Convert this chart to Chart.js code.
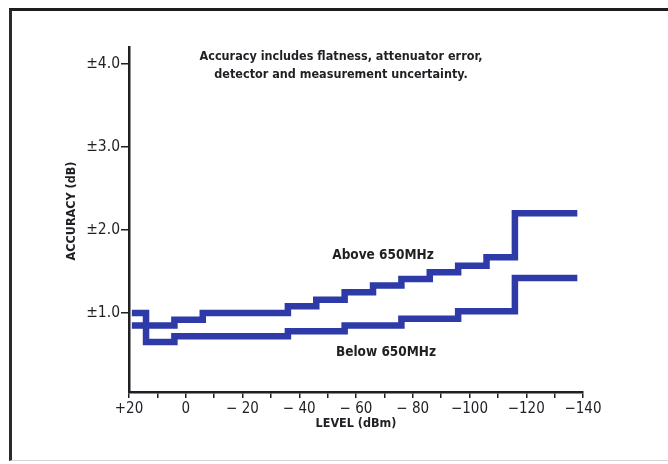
<!DOCTYPE html>
<html>
<head>
<meta charset="utf-8">
<script src="https://cdn.jsdelivr.net/npm/chart.js@4.4.1/dist/chart.umd.min.js"></script>
<style>
  html, body { margin: 0; padding: 0; background: #ffffff; }
  #wrap { position: relative; width: 668px; height: 464px; overflow: hidden; }
  #frame {
    position: absolute; left: 9px; top: 8px; width: 680px; height: 453px;
    border-top: 3px solid #1d1d1f; border-left: 3px solid #2a2a2c;
    border-bottom: 1px solid #d6d6d6; box-sizing: border-box;
  }
  canvas { position: absolute; left: 0; top: 0; }
</style>
</head>
<body>
<div id="wrap">
  <div id="frame"></div>
  <canvas id="c" width="668" height="464"></canvas>
</div>
<script>
// Level breakpoints (dBm) and accuracy (± dB) for each stepped curve;
// each value holds from its breakpoint to the next one
const levelsAbove = [19, 14, 4, -6, -36, -46, -56, -66, -76, -86, -96, -106, -116, -138];
const accuracyAbove = [1.0, 0.85, 0.92, 1.0, 1.08, 1.16, 1.25, 1.33, 1.41, 1.49, 1.57, 1.67, 2.2, 2.2];

const levelsBelow = [19, 14, 4, -36, -56, -76, -96, -116, -138];
const accuracyBelow = [0.85, 0.65, 0.72, 0.78, 0.85, 0.93, 1.02, 1.42, 1.42];

const xTicks = [20, 10, 0, -10, -20, -30, -40, -50, -60, -70, -80, -90, -100, -110, -120, -130, -140];
const xTickLabels = ['+20', '', '0', '', '\u2212 20', '', '\u2212 40', '', '\u2212 60', '', '\u2212 80', '', '\u2212100', '', '\u2212120', '', '\u2212140'];
const yTicks = [1, 2, 3, 4];
const yTickLabels = ['\u00b11.0', '\u00b12.0', '\u00b13.0', '\u00b14.0'];

const noteLines = ['Accuracy includes flatness, attenuator error,', 'detector and measurement uncertainty.'];
const seriesNames = ['Above 650MHz', 'Below 650MHz'];

const BLUE = '#2d3aa7';
const INK = '#1f1f24';
const NARROW = "'Liberation Sans Narrow', 'DejaVu Sans Condensed', 'Roboto Condensed', sans-serif";

function toPoints(xs, ys) { return xs.map((x, i) => ({ x: x, y: ys[i] })); }

// Free text: note, curve names and axis titles
const textPlugin = {
  id: 'chartText',
  afterDraw(chart) {
    const c = chart.ctx;
    const area = chart.chartArea;
    c.save();
    c.fillStyle = INK;
    c.textAlign = 'center';
    c.textBaseline = 'middle';
    c.font = 'bold 12.5px ' + NARROW;
    c.fillText(noteLines[0], 341, 57);
    c.fillText(noteLines[1], 341, 75);
    c.font = 'bold 13.5px ' + NARROW;
    c.fillText(seriesNames[0], 383, 255);
    c.fillText(seriesNames[1], 386, 352);
    c.font = 'bold 12.5px ' + NARROW;
    c.fillText('LEVEL (dBm)', (area.left + area.right) / 2, 424);
    c.translate(72, 211);
    c.rotate(-Math.PI / 2);
    c.fillText('ACCURACY (dB)', 0, 0);
    c.restore();
  }
};

new Chart(document.getElementById('c'), {
  type: 'line',
  data: {
    datasets: [
      { label: seriesNames[0], data: toPoints(levelsAbove, accuracyAbove) },
      { label: seriesNames[1], data: toPoints(levelsBelow, accuracyBelow) }
    ].map(d => Object.assign(d, {
      stepped: 'before', borderColor: BLUE, borderWidth: 6.5, pointRadius: 0,
      fill: false, borderJoinStyle: 'miter', borderCapStyle: 'butt', tension: 0
    }))
  },
  options: {
    responsive: false,
    animation: false,
    layout: { padding: { top: 47, right: 85, left: 0, bottom: 0 } },
    plugins: { legend: { display: false }, tooltip: { enabled: false } },
    scales: {
      x: {
        type: 'linear', reverse: true, min: -140, max: 20,
        afterBuildTicks: s => { s.ticks = xTicks.map(v => ({ value: v })); },
        afterFit: s => { s.height = 72; },
        ticks: {
          autoSkip: false, maxRotation: 0, padding: 2, color: INK,
          font: { family: NARROW, size: 15 },
          callback: (v, i) => xTickLabels[xTicks.indexOf(v)]
        },
        grid: { drawOnChartArea: false, tickLength: 6, color: INK, lineWidth: 1.5 },
        border: { color: INK, width: 2.5 }
      },
      y: {
        min: 0.05, max: 4.2,
        afterBuildTicks: s => { s.ticks = yTicks.map(v => ({ value: v })); },
        afterFit: s => { s.width = 129; },
        ticks: {
          padding: 1, color: INK,
          font: { family: NARROW, size: 15.5 },
          callback: v => yTickLabels[yTicks.indexOf(v)]
        },
        grid: { drawOnChartArea: false, tickLength: 8, color: INK, lineWidth: 1.5 },
        border: { color: INK, width: 2.5 }
      }
    }
  },
  plugins: [textPlugin]
});
</script>
</body>
</html>
